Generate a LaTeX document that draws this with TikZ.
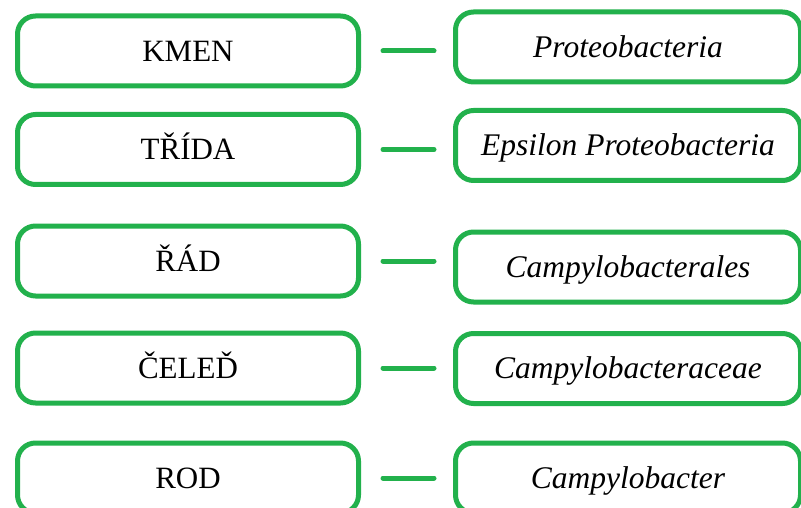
\documentclass[tikz,border=0pt]{standalone}
\usepackage{fontspec}
\setmainfont{Liberation Serif}
\usetikzlibrary{positioning}
\definecolor{cGreen}{HTML}{22B14C}

\begin{document}
\begin{tikzpicture}[
    x=1pt, y=-1pt,
    rank/.style={draw=cGreen, line width=5pt, rounded corners=18pt,
                 minimum width=341pt, minimum height=70pt, inner sep=0pt,
                 text height=20.5pt, text depth=0pt,
                 font=\fontsize{31}{36}\selectfont},
    taxon/.style={rank, minimum width=345pt, font=\fontsize{31.5}{36}\selectfont\itshape},
    link/.style={draw=cGreen, line width=5pt, line cap=round,
                 shorten <=22pt, shorten >=19pt},
]
\useasboundingbox (0,0) rectangle (801,508);

% ---------- Geometry ----------
\def\lx{188}     % centre of rank boxes
\def\rx{628}     % centre of taxon boxes

% ---------- Rows: rank -- taxon ----------
\foreach \i/\ly/\ry/\rk/\tx in {1/51/47/KMEN/Proteobacteria,
                                2/149.5/145.5/TŘÍDA/Epsilon Proteobacteria,
                                3/261/267/ŘÁD/Campylobacterales,
                                4/368/368.5/ČELEĎ/Campylobacteraceae,
                                5/478/478/ROD/Campylobacter}{
  \node[rank]  (rank\i)  at (\lx,\ly) {\rk};
  \node[taxon] (taxon\i) at (\rx,\ry) {\tx};
  \draw[link] (rank\i.east) -- (rank\i.east -| taxon\i.west);
}

\end{tikzpicture}
\end{document}
